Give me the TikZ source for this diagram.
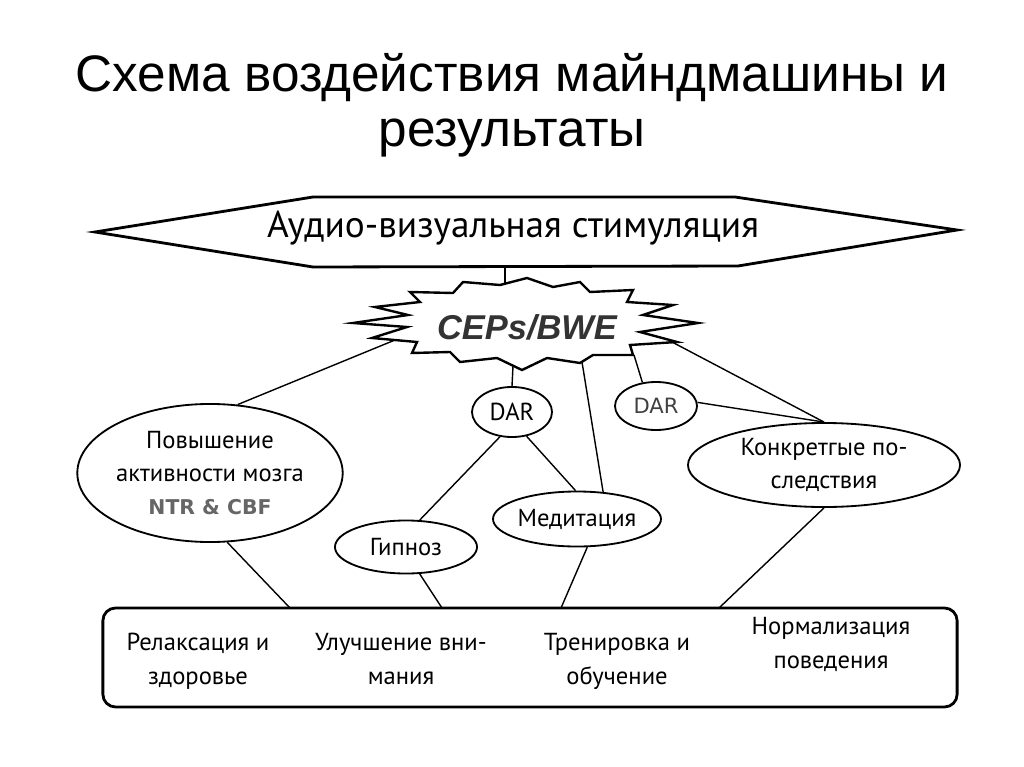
\documentclass[tikz,border=0pt]{standalone}
\usepackage{fontspec}
\setmainfont{PT Sans}
\newfontfamily\titlefont{Liberation Sans}
\newfontfamily\tagfont{DejaVu Sans}
\usetikzlibrary{shapes.geometric}

\begin{document}
\begin{tikzpicture}[x=0.025cm, y=-0.025cm,
  bubble/.style={ellipse,draw,line width=1.3pt,inner sep=0pt,align=center,font=\fontsize{17.5}{23.5}\selectfont},
  outcome/.style={anchor=base,align=center,font=\fontsize{17.5}{24}\selectfont},
  link/.style={line width=1pt}]

\useasboundingbox (0,0) rectangle (1024,767);

% Title
\node[anchor=base,font=\titlefont\fontsize{36.5}{44}\selectfont] (title1) at (512,92) {Схема воздействия майндмашины и};
\node[anchor=base,font=\titlefont\fontsize{36.5}{44}\selectfont] (title2) at (512,147) {результаты};

% Stimulation (hexagon)
\draw[line width=2pt] (95,232) -- (313,197) -- (735,197) -- (957,230) -- (738,266) -- (313,267) -- cycle;
\node[anchor=base,font=\fontsize{26.5}{30}\selectfont] (avs) at (513,238) {Аудио-визуальная стимуляция};
\coordinate (avsb) at (505,266);

% CEPs/BWE burst
\draw[line width=1.7pt,fill=white] (420,302) -- (410,292) -- (453,293) -- (463,282) -- (500,285) -- (527,278)
  -- (553,287) -- (580,282) -- (590,292) -- (633,290) -- (627,302) -- (673,305) -- (643,315) -- (698,323)
  -- (640,332) -- (677,342) -- (630,345) -- (633,355) -- (593,355) -- (580,363) -- (547,358) -- (522,370)
  -- (497,358) -- (460,362) -- (450,352) -- (412,353) -- (417,342) -- (372,338) -- (407,327) -- (353,323)
  -- (408,315) -- (375,307) -- cycle;
\node[font=\titlefont\bfseries\itshape\fontsize{24.5}{28}\selectfont,text=black!80] (ceps) at (527,327) {CEPs/BWE};
\coordinate (cepsT) at (505,285);
\coordinate (cepsL) at (395,340);
\coordinate (cepsB1) at (513,366);
\coordinate (cepsB2) at (582,362);
\coordinate (cepsB3) at (634,355);
\coordinate (cepsR) at (672,342);

% Effects (ellipses)
\node[bubble,minimum width=5.4cm,minimum height=3.45cm] (brain) at (210,473)
  {Повышение\\активности мозга\\{\tagfont\bfseries\color{black!60}\fontsize{14.5}{23.5}\selectfont NTR \& CBF}};
\node[bubble,minimum width=2cm,minimum height=1.25cm] (dar1) at (512,412) {DAR};
\node[bubble,minimum width=2.05cm,minimum height=1.2cm,font=\tagfont\fontsize{15}{20}\selectfont,text=black!75] (dar2) at (656,406) {DAR};
\node[bubble,minimum width=6.8cm,minimum height=2.1cm] (effects) at (824,465) {Конкретгые по-\\следствия};
\node[bubble,minimum width=3.9cm,minimum height=1.375cm] (medit) at (577,519) {Медитация};
\node[bubble,minimum width=3.55cm,minimum height=1.325cm] (hypno) at (406,547) {Гипноз};

% Results box
\node[draw,line width=2pt,rounded corners=9pt,minimum width=21.35cm,minimum height=2.475cm] (results) at (530,657.5) {};
\node[outcome] (relax) at (198,684) {Релаксация и\\здоровье};
\node[outcome] (attent) at (401,684) {Улучшение вни-\\мания};
\node[outcome] (train) at (617,684) {Тренировка и\\обучение};
\node[outcome] (norm) at (831,668) {Нормализация\\поведения};
\coordinate (r1) at (290,608);
\coordinate (r2) at (442,608);
\coordinate (r3) at (561,608);
\coordinate (r4) at (719,608);

% Connections
\foreach \a/\b in {avsb/cepsT, cepsL/brain.68, brain.284/r1, cepsB1/dar1.north, dar1.244/hypno.63,
  dar1.301/medit.93, cepsB2/medit.46, cepsB3/dar2.120, dar2.5/effects.north, cepsR/effects.north,
  hypno.297/r2, medit.290/r3, effects.south/r4} {
    \draw[link] (\a) -- (\b);
}
\end{tikzpicture}
\end{document}
